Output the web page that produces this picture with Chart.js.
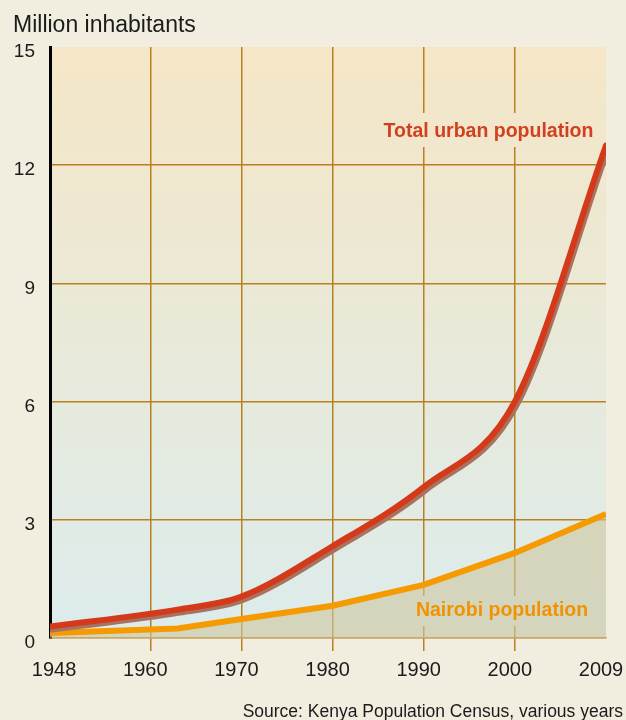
<!DOCTYPE html>
<html>
<head>
<meta charset="utf-8">
<script src="https://cdn.jsdelivr.net/npm/chart.js@4.4.1/dist/chart.umd.min.js"></script>
<style>
  body { margin: 0; background: #f1eddf; }
  canvas { display: block; }
</style>
</head>
<body>
<canvas id="chart" width="626" height="720"></canvas>
<script>
// census years, population in million inhabitants
const censusYears = [1948, 1962, 1969, 1979, 1989, 1999, 2009];
const urbanPop = [0.29, 0.72, 1.05, 2.33, 3.83, 6.0, 12.5];
const nairobiPop = [0.13, 0.24, 0.48, 0.82, 1.35, 2.16, 3.15];

// x grid positions and the labels printed under them
const tickYears = [1948, 1959, 1969, 1979, 1989, 1999, 2009];
const tickLabels = ['1948', '1960', '1970', '1980', '1990', '2000', '2009'];
const yMax = 15;
const yStep = 3;

const FONT = '"Liberation Sans", Arial, sans-serif';
const GRID = '#b8801f';

const toPoints = (xs, ys) => xs.map((x, i) => ({ x: x, y: ys[i] }));
const isEnd = (i) => i === 0 || i === tickYears.length - 1;

const decor = {
  id: 'decor',
  beforeDraw(chart) {
    const { ctx, chartArea: a } = chart;
    const g = ctx.createLinearGradient(0, a.top, 0, a.bottom);
    g.addColorStop(0, '#f5e6c6');
    g.addColorStop(1, '#dcecec');
    chart.$bg = g;
    ctx.save();
    ctx.fillStyle = g;
    ctx.fillRect(a.left, a.top, a.right - a.left, a.bottom - a.top);
    ctx.fillStyle = '#1b1b1b';
    ctx.textBaseline = 'alphabetic';
    ctx.font = '23px ' + FONT;
    ctx.textAlign = 'left';
    ctx.fillText('Million inhabitants', 13, 32);
    ctx.font = '17.5px ' + FONT;
    ctx.textAlign = 'right';
    ctx.fillText('Source: Kenya Population Census, various years', 623, 717);
    ctx.restore();
  },
  beforeDatasetsDraw(chart) {
    // gaps in the grid behind the two labels
    const { ctx } = chart;
    ctx.save();
    ctx.fillStyle = chart.$bg;
    ctx.fillRect(378, 113, 220, 34);
    ctx.fillRect(410, 596, 185, 30);
    ctx.restore();
  },
  afterDatasetsDraw(chart) {
    const { ctx } = chart;
    ctx.save();
    ctx.font = 'bold 19.5px ' + FONT;
    ctx.textAlign = 'center';
    ctx.textBaseline = 'alphabetic';
    ctx.fillStyle = '#d2411f';
    ctx.fillText('Total urban population', 488.5, 137);
    ctx.fillStyle = '#f39200';
    ctx.fillText('Nairobi population', 502, 616);
    ctx.restore();
  },
  beforeDatasetDraw(chart, args) {
    if (args.index === 0) {
      const { ctx } = chart;
      ctx.save();
      ctx.shadowColor = '#a8725f';
      ctx.shadowOffsetX = 2;
      ctx.shadowOffsetY = 3;
      ctx.shadowBlur = 0;
    }
  },
  afterDatasetDraw(chart, args) {
    if (args.index === 0) chart.ctx.restore();
  }
};

new Chart(document.getElementById('chart'), {
  type: 'line',
  data: {
    datasets: [{
      label: 'Total urban population',
      data: toPoints(censusYears, urbanPop),
      borderColor: '#d4391a',
      borderWidth: 6,
      borderCapStyle: 'round',
      cubicInterpolationMode: 'monotone',
      pointRadius: 0,
      fill: false
    }, {
      label: 'Nairobi population',
      data: toPoints(censusYears, nairobiPop),
      borderColor: '#f59a00',
      borderWidth: 6,
      pointRadius: 0,
      fill: 'origin',
      backgroundColor: 'rgba(205, 198, 158, 0.6)'
    }]
  },
  options: {
    responsive: false,
    animation: false,
    events: [],
    layout: { padding: { top: 47, right: 20, left: 0, bottom: 0 } },
    plugins: {
      legend: { display: false },
      tooltip: { enabled: false }
    },
    scales: {
      x: {
        type: 'linear',
        min: censusYears[0],
        max: censusYears[censusYears.length - 1],
        // first tick is nudged one year so its label clears the axis (its grid line is hidden)
        afterBuildTicks: (scale) => {
          scale.ticks = tickYears.map((v, i) => ({ value: i === 0 ? v + 1 : v }));
        },
        afterFit: (scale) => { scale.height = 82; scale.paddingLeft = 0; scale.paddingRight = 0; },
        grid: {
          color: (c) => isEnd(c.index) ? 'rgba(0,0,0,0)' : GRID,
          tickColor: (c) => isEnd(c.index) ? 'rgba(0,0,0,0)' : GRID,
          lineWidth: 1.5,
          tickLength: 13
        },
        border: { color: GRID, width: 1.5 },
        ticks: {
          autoSkip: false,
          maxRotation: 0,
          padding: 7,
          labelOffset: -5,
          color: '#1b1b1b',
          font: { family: FONT, size: 20 },
          callback: (v, i) => tickLabels[i]
        }
      },
      y: {
        min: 0,
        max: yMax,
        afterFit: (scale) => { scale.width = 50; },
        grid: {
          color: (c) => (c.tick.value === 0 || c.tick.value === yMax) ? 'rgba(0,0,0,0)' : GRID,
          lineWidth: 1.5,
          drawTicks: false
        },
        border: { color: '#000', width: 3 },
        ticks: {
          stepSize: yStep,
          padding: 15,
          labelOffset: 5,
          color: '#1b1b1b',
          font: { family: FONT, size: 19 }
        }
      }
    }
  },
  plugins: [decor]
});
</script>
</body>
</html>
